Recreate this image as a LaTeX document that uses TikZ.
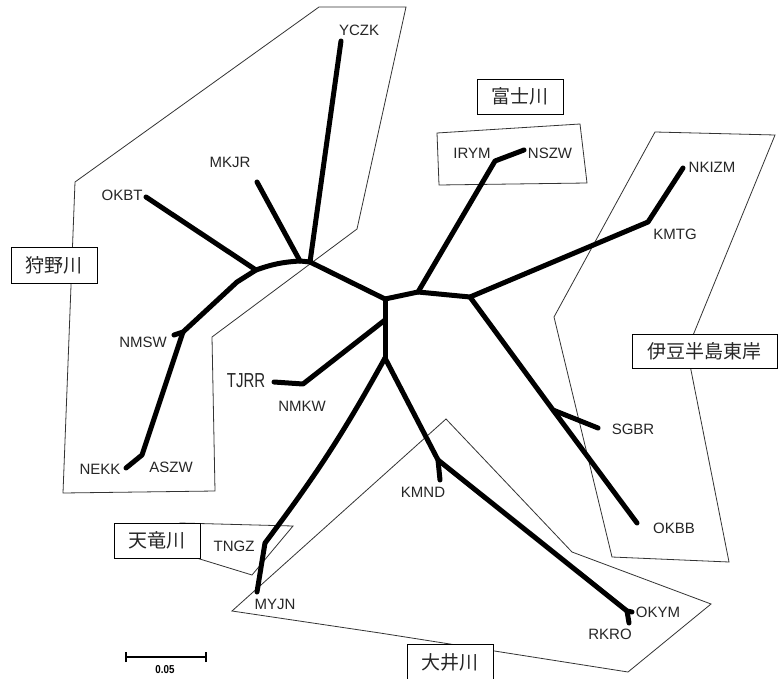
\documentclass[tikz,border=0pt]{standalone}
\usepackage{fontspec}
\setmainfont{Liberation Sans}
\newfontfamily\jpfont{Noto Sans CJK JP}
\begin{document}
\begin{tikzpicture}[x=1pt,y=-1pt,
  branch/.style={line width=5pt, line cap=round, line join=round},
  region/.style={line width=0.8pt, draw=black!80, line join=miter},
  lab/.style={font=\fontsize{15}{15}\selectfont, text=black!85, inner sep=0pt},
  rbox/.style={draw, line width=0.9pt, fill=white, text=black!85, font=\jpfont\fontsize{19}{19}\selectfont, inner sep=0pt}]
\useasboundingbox[fill=white] (0,0) rectangle (778,679);

% ---------- regions ----------
\draw[region] (319,7) -- (406,7) -- (357,229) -- (212,337) -- (215,491) -- (63,493) -- (75,182) -- cycle;
\draw[region] (437,133) -- (580,124) -- (587,183) -- (439,185) -- cycle;
\draw[region] (655,132) -- (775,135) -- (687,350) -- (729,562) -- (612,557) -- (554,317) -- cycle;
\draw[region] (446,419) -- (572,552) -- (711,604) -- (628,672) -- (380,633) -- (232,611) -- cycle;
\draw[region] (180,523) -- (293,526) -- (252,575) -- (190,556) -- cycle;

% ---------- region labels ----------
\node[rbox, minimum width=86pt, minimum height=36pt] (kano) at (54,265) {狩野川};
\node[rbox, minimum width=86pt, minimum height=35pt] (fuji) at (520,96.5) {富士川};
\node[rbox, minimum width=145pt, minimum height=34pt] (izu) at (704.5,351) {伊豆半島東岸};
\node[rbox, minimum width=86pt, minimum height=35pt] (tenryu) at (157,540.5) {天竜川};
\node[rbox, minimum width=86pt, minimum height=36pt] (oi) at (450,662) {大井川};

% ---------- tree coordinates ----------
\coordinate (c) at (385,299);
\coordinate (u1) at (310,262);
\coordinate (u2) at (300,261);
\coordinate (u3) at (256,270);
\coordinate (u3b) at (237,282);
\coordinate (u4) at (183,332);
\coordinate (ycz) at (341,41);
\coordinate (mkj) at (257,182);
\coordinate (okb) at (146,197);
\coordinate (nms) at (174,335);
\coordinate (asz) at (142,455);
\coordinate (nek) at (126,468);
\coordinate (r1) at (418,292);
\coordinate (iry) at (495,161);
\coordinate (nsz) at (524,150);
\coordinate (r2) at (470,297);
\coordinate (kmt) at (648,222);
\coordinate (nki) at (683,168);
\coordinate (sgj) at (553,410);
\coordinate (sgb) at (598,428);
\coordinate (okbb) at (637,523);
\coordinate (d1) at (385,320);
\coordinate (nmk) at (303,384);
\coordinate (tjr) at (274,382);
\coordinate (d2) at (385,358);
\coordinate (tng) at (265,543);
\coordinate (myj) at (257,592);
\coordinate (kmn) at (438,460);
\coordinate (kmnd) at (440,480);
\coordinate (oky) at (627,611);
\coordinate (okyt) at (632,612);
\coordinate (rkr) at (629,623);

% ---------- branches ----------
\draw[branch] (c) -- (u1) -- (ycz);
\draw[branch] (u1) -- (u2) -- (mkj);
\draw[branch] (u2) to[bend right=8] (u3) -- (okb);
\draw[branch] (u3) -- (u3b) -- (u4) -- (nms);
\draw[branch] (u4) -- (asz) -- (nek);
\draw[branch] (c) -- (r1) -- (iry) -- (nsz);
\draw[branch] (r1) -- (r2) -- (kmt) -- (nki);
\draw[branch] (r2) -- (sgj) -- (sgb);
\draw[branch] (sgj) -- (okbb);
\draw[branch] (c) -- (d1) -- (d2);
\draw[branch] (d1) -- (nmk) -- (tjr);
\draw[branch] (d2) to[bend left=4] (tng) -- (myj);
\draw[branch] (d2) -- (kmn) -- (kmnd);
\draw[branch] (kmn) -- (oky) -- (okyt);
\draw[branch] (oky) -- (rkr);

% ---------- leaf labels ----------
\node[lab] (lycz) at (359,30) {YCZK};
\node[lab] (lmkj) at (230,162) {MKJR};
\node[lab] (lokb) at (122,195) {OKBT};
\node[lab] (liry) at (472,153) {IRYM};
\node[lab] (lnsz) at (550,153) {NSZW};
\node[lab] (lnki) at (712,167) {NKIZM};
\node[lab] (lkmt) at (675,234) {KMTG};
\node[lab] (lnms) at (143,342) {NMSW};
\node[lab] (lnek) at (100,469) {NEKK};
\node[lab] (lasz) at (171,467) {ASZW};
\node[lab] (ltjr) at (246,381) {\scalebox{1}[1.35]{TJRR}};
\node[lab] (lnmk) at (302,406) {NMKW};
\node[lab] (ltng) at (234,546) {TNGZ};
\node[lab] (lmyj) at (275,604) {MYJN};
\node[lab] (lkmn) at (423,492) {KMND};
\node[lab] (lsgb) at (633,429) {SGBR};
\node[lab] (lokbb) at (674,528) {OKBB};
\node[lab] (loky) at (658,612) {OKYM};
\node[lab] (lrkr) at (610,634) {RKRO};

% ---------- scale bar ----------
\coordinate (sa) at (126,657);
\coordinate (sb) at (206,657);
\draw[line width=1.2pt] (sa) -- (sb);
\draw[line width=1.2pt] ([yshift=-5pt]sa) -- ([yshift=5pt]sa);
\draw[line width=1.2pt] ([yshift=-5pt]sb) -- ([yshift=5pt]sb);
\node[font=\bfseries\fontsize{11.5}{11.5}\selectfont, inner sep=0pt] (scl) at (165,670) {\scalebox{0.85}[1]{0.05}};
\end{tikzpicture}
\end{document}
